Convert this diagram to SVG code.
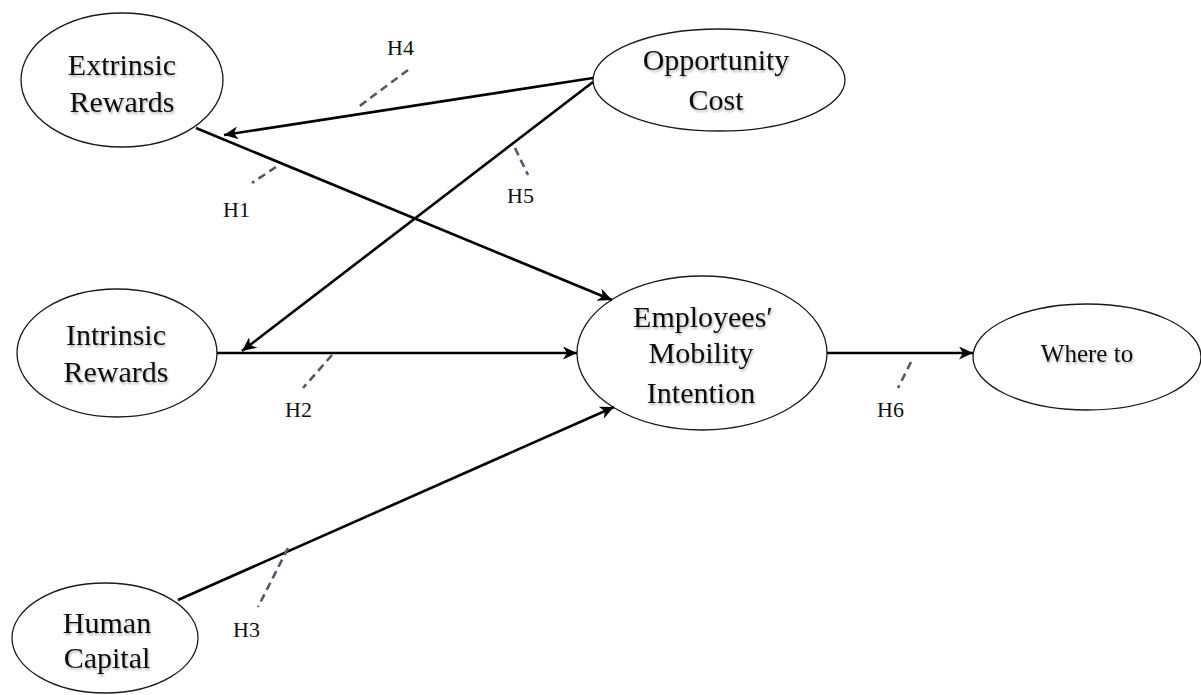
<svg xmlns="http://www.w3.org/2000/svg" width="1201" height="695" viewBox="0 0 1201 695">
<style>
.node ellipse{fill:#fff;stroke:#1a1a1a;stroke-width:1.3}
.lbl{font-family:"Liberation Serif","Times New Roman",serif;font-size:30px;fill:#111;text-anchor:middle}
.lbl.small{font-size:25px}
.conn line{stroke:#000;stroke-width:2.6;fill:none}
.tick line{stroke:#55566e;stroke-width:2.6;stroke-dasharray:8 5}
.h{font-family:"Liberation Serif","Times New Roman",serif;font-size:22px;fill:#111}
</style>
<defs>
<marker id="arr" markerUnits="userSpaceOnUse" markerWidth="15" markerHeight="13" refX="14" refY="6.5" orient="auto">
<path d="M0,0 L14,6.5 L0,13 L4,6.5 z" fill="#000"/>
</marker>
<filter id="sh" x="-10%" y="-10%" width="120%" height="130%">
<feDropShadow dx="1" dy="2" stdDeviation="1.2" flood-color="#000" flood-opacity="0.3"/>
</filter>
</defs>
<rect width="1201" height="695" fill="#fff"/>
<g id="extrinsic-rewards" class="node">
<ellipse cx="122" cy="80" rx="101" ry="67"/>
<text class="lbl" x="122" y="75" filter="url(#sh)">Extrinsic</text>
<text class="lbl" x="122" y="112" filter="url(#sh)">Rewards</text>
</g>
<g id="opportunity-cost" class="node">
<ellipse cx="719" cy="80" rx="126" ry="51"/>
<text class="lbl" x="716" y="70" filter="url(#sh)">Opportunity</text>
<text class="lbl" x="716" y="110" filter="url(#sh)">Cost</text>
</g>
<g id="intrinsic-rewards" class="node">
<ellipse cx="117" cy="353" rx="100" ry="64"/>
<text class="lbl" x="116" y="345" filter="url(#sh)">Intrinsic</text>
<text class="lbl" x="116" y="382" filter="url(#sh)">Rewards</text>
</g>
<g id="employees-mobility-intention" class="node">
<ellipse cx="702" cy="353" rx="125" ry="77"/>
<text class="lbl" x="703" y="327" filter="url(#sh)">Employees′</text>
<text class="lbl" x="701" y="363" filter="url(#sh)">Mobility</text>
<text class="lbl" x="701" y="403" filter="url(#sh)">Intention</text>
</g>
<g id="where-to" class="node">
<ellipse cx="1087" cy="357" rx="114" ry="53"/>
<text class="lbl small" x="1087" y="362" filter="url(#sh)">Where to</text>
</g>
<g id="human-capital" class="node">
<ellipse cx="105" cy="638" rx="93" ry="55"/>
<text class="lbl" x="107" y="633" filter="url(#sh)">Human</text>
<text class="lbl" x="107" y="668" filter="url(#sh)">Capital</text>
</g>
<g id="connectors" class="conn">
<line x1="593" y1="78" x2="224" y2="135" marker-end="url(#arr)"/>
<line x1="196" y1="128" x2="612" y2="300" marker-end="url(#arr)"/>
<line x1="593" y1="82" x2="242" y2="351" marker-end="url(#arr)"/>
<line x1="217" y1="353" x2="577" y2="353" marker-end="url(#arr)"/>
<line x1="178" y1="600" x2="614" y2="407" marker-end="url(#arr)"/>
<line x1="827" y1="353" x2="973" y2="353" marker-end="url(#arr)"/>
</g>
<g id="hypothesis-ticks" class="tick">
<line x1="408" y1="70" x2="357" y2="108"/>
<line x1="276" y1="167" x2="252" y2="183"/>
<line x1="515" y1="148" x2="528" y2="175"/>
<line x1="332" y1="355" x2="303" y2="388"/>
<line x1="288" y1="548" x2="258" y2="607"/>
<line x1="911" y1="362" x2="898" y2="388"/>
</g>
<g id="hypothesis-labels">
<text class="h" x="387" y="55">H4</text>
<text class="h" x="223" y="217">H1</text>
<text class="h" x="507" y="203">H5</text>
<text class="h" x="285" y="417">H2</text>
<text class="h" x="233" y="637">H3</text>
<text class="h" x="877" y="417">H6</text>
</g>
</svg>
